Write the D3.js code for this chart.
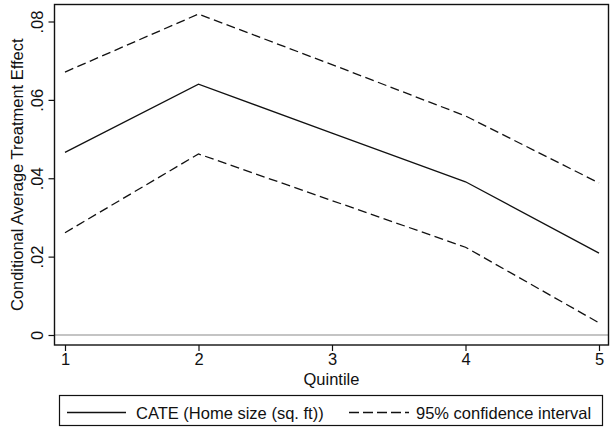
<!DOCTYPE html>
<html>
<head>
<meta charset="utf-8">
<script src="https://cdn.jsdelivr.net/npm/d3@7"></script>
<style>
  html, body { margin: 0; padding: 0; background: #fff; }
  svg { display: block; font-family: "Liberation Sans", Arial, sans-serif; }
</style>
</head>
<body>
<svg id="chart" width="612" height="432"></svg>
<script>
// Quintiles of home size and estimated effects
const quintiles = [1, 2, 3, 4, 5];
const cate  = [0.0466, 0.0640, 0.0515, 0.0391, 0.0209];
const upper = [0.0671, 0.0819, 0.0690, 0.0559, 0.0388];
const lower = [0.0261, 0.0462, 0.0343, 0.0224, 0.0031];
const yTicks = [0, 0.02, 0.04, 0.06, 0.08];
const yTickLabels = ["0", ".02", ".04", ".06", ".08"];
const seriesLabels = ["CATE (Home size (sq. ft))", "95% confidence interval"];

const FONT = "16.5px";
const svg = d3.select("#chart");
const frame = { left: 54.5, right: 608.5, top: 4.5, bottom: 345 };

const x = d3.scaleLinear().domain([1, 5]).range([65, 599]);
const y = d3.scaleLinear().domain([0, 0.08]).range([335, 21.5]);

// zero reference line
svg.append("line")
  .attr("x1", frame.left).attr("x2", frame.right)
  .attr("y1", y(0)).attr("y2", y(0))
  .attr("stroke", "#8a8a8a").attr("stroke-width", 1.2);

const line = d3.line().x((d, i) => x(quintiles[i])).y(d => y(d));
const DASH = "9,4.5";

svg.append("path").datum(upper)
  .attr("d", line).attr("fill", "none")
  .attr("stroke", "#111").attr("stroke-width", 1.3)
  .attr("stroke-dasharray", DASH);
svg.append("path").datum(lower)
  .attr("d", line).attr("fill", "none")
  .attr("stroke", "#111").attr("stroke-width", 1.3)
  .attr("stroke-dasharray", DASH);
svg.append("path").datum(cate)
  .attr("d", line).attr("fill", "none")
  .attr("stroke", "#111").attr("stroke-width", 1.3);

// plot frame
svg.append("rect")
  .attr("x", frame.left).attr("y", frame.top)
  .attr("width", frame.right - frame.left).attr("height", frame.bottom - frame.top)
  .attr("fill", "none").attr("stroke", "#111").attr("stroke-width", 1.4);

// y axis with rotated tick labels
const yAxis = d3.axisLeft(y).tickValues(yTicks)
  .tickFormat((d, i) => yTickLabels[i]).tickSize(6).tickPadding(0);
const gy = svg.append("g").attr("transform", `translate(${frame.left},0)`).call(yAxis);
gy.select(".domain").remove();
gy.selectAll(".tick line").attr("stroke", "#111").attr("stroke-width", 1.2);
gy.selectAll(".tick text")
  .attr("x", 0).attr("dy", null)
  .attr("transform", "translate(-12,0) rotate(-90)")
  .attr("text-anchor", "middle")
  .attr("fill", "#111").style("font-size", FONT)
  .style("font-family", "'Liberation Sans', Arial, sans-serif");

// x axis
const xAxis = d3.axisBottom(x).tickValues(quintiles).tickFormat(d3.format("d"))
  .tickSize(6).tickPadding(2);
const gx = svg.append("g").attr("transform", `translate(0,${frame.bottom})`).call(xAxis);
gx.select(".domain").remove();
gx.selectAll(".tick line").attr("stroke", "#111").attr("stroke-width", 1.2);
gx.selectAll(".tick text").attr("fill", "#111").style("font-size", FONT)
  .style("font-family", "'Liberation Sans', Arial, sans-serif");

// axis titles
svg.append("text")
  .attr("x", (frame.left + frame.right) / 2).attr("y", 385)
  .attr("text-anchor", "middle").attr("fill", "#111").style("font-size", FONT)
  .text("Quintile");
svg.append("text")
  .attr("transform", `translate(23,${(frame.top + frame.bottom) / 2}) rotate(-90)`)
  .attr("text-anchor", "middle").attr("fill", "#111").style("font-size", FONT)
  .text("Conditional Average Treatment Effect");

// legend
const legend = svg.append("g");
legend.append("rect")
  .attr("x", 59.5).attr("y", 395.5).attr("width", 543).attr("height", 30)
  .attr("fill", "#fff").attr("stroke", "#111").attr("stroke-width", 1.2);
legend.append("line")
  .attr("x1", 67).attr("x2", 126).attr("y1", 412.5).attr("y2", 412.5)
  .attr("stroke", "#111").attr("stroke-width", 1.3);
legend.append("text")
  .attr("x", 136).attr("y", 418.5).attr("fill", "#111").style("font-size", FONT)
  .text(seriesLabels[0]);
legend.append("line")
  .attr("x1", 349).attr("x2", 409).attr("y1", 412.5).attr("y2", 412.5)
  .attr("stroke", "#111").attr("stroke-width", 1.3).attr("stroke-dasharray", "10,4");
legend.append("text")
  .attr("x", 416).attr("y", 418.5)
  .attr("fill", "#111").style("font-size", FONT)
  .text(seriesLabels[1]);
</script>
</body>
</html>
